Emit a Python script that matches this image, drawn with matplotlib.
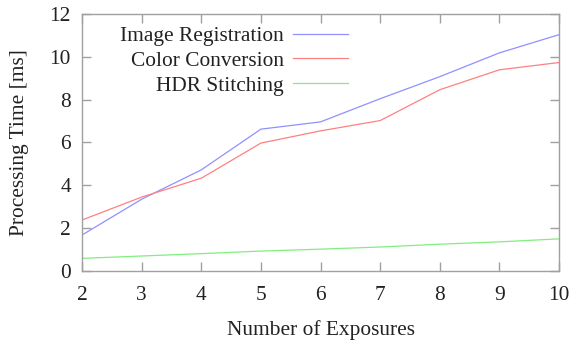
import matplotlib
matplotlib.use("Agg")
import matplotlib.pyplot as plt

plt.rcParams['font.family'] = ['Liberation Serif', 'DejaVu Serif']

exposures = [2, 3, 4, 5, 6, 7, 8, 9, 10]
image_registration = [1.68, 3.35, 4.72, 6.62, 6.96, 8.04, 9.07, 10.18, 11.03]
color_conversion = [2.38, 3.45, 4.33, 5.97, 6.54, 7.02, 8.46, 9.39, 9.73]
hdr_stitching = [0.59, 0.70, 0.81, 0.93, 1.02, 1.12, 1.25, 1.36, 1.50]

fs = 15.4

fig = plt.figure(figsize=(5.74, 3.47), dpi=100)
ax = fig.add_axes([0.1429, 0.219, 0.831, 0.741])

lw = 0.9
ax.plot(exposures, image_registration, color='#9090ff', linewidth=lw, label='Image Registration')
ax.plot(exposures, color_conversion, color='#ff8080', linewidth=lw, label='Color Conversion')
ax.plot(exposures, hdr_stitching, color='#80ee80', linewidth=lw, label='HDR Stitching')

ax.set_xlim(2, 10)
ax.set_ylim(0, 12)
ax.set_xticks(range(2, 11))
ax.set_yticks(range(0, 13, 2))

for s in ax.spines.values():
  s.set_color('#a0a0a0')
  s.set_linewidth(1.0)
ax.tick_params(direction='in', length=6.5, width=1.0, color='#a0a0a0',
               top=True, right=True, labelsize=fs, labelcolor='#222222')
ax.tick_params(axis='x', pad=11)
ax.tick_params(axis='y', pad=8)

ax.set_xlabel('Number of Exposures', fontsize=fs, color='#222222', labelpad=11)
ax.set_ylabel('Processing Time [ms]', fontsize=fs, color='#222222', labelpad=15)

leg = ax.legend(loc='upper right', bbox_to_anchor=(0.558, 0.952), frameon=False,
                markerfirst=False, fontsize=fs, handlelength=2.6,
                handletextpad=0.4, labelspacing=0.22, borderaxespad=0,
                borderpad=0)
for t in leg.get_texts():
  t.set_color('#222222')
  t.set_ha('right')

fig.savefig('out.png', dpi=100)
